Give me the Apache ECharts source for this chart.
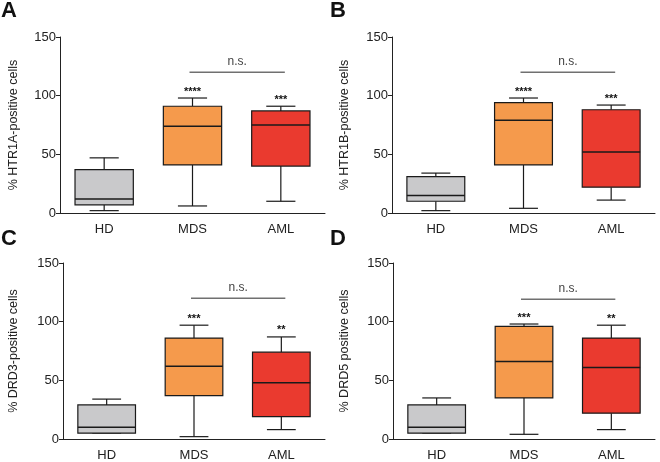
<!DOCTYPE html>
<html>
<head>
<meta charset="utf-8">
<script src="https://cdn.jsdelivr.net/npm/echarts@6/dist/echarts.min.js"></script>
<style>
html,body{margin:0;padding:0;background:#fff;}
#chart{width:660px;height:462px;}
</style>
</head>
<body>
<div id="chart"></div>
<script>
// ---- data ----
const categories = ['HD', 'MDS', 'AML'];
const panelLetters = ['A', 'B', 'C', 'D'];
const yTitles = ['% HTR1A-positive cells', '% HTR1B-positive cells', '% DRD3-positive cells', '% DRD5 positive cells'];
const yMin = 0, yMax = 150, yInterval = 50;
// [min, Q1, median, Q3, max] per category
const htr1a = [[2, 7, 12, 37, 47], [6, 41, 74, 91, 98], [10, 40, 75, 87, 91]];
const htr1b = [[2, 10, 15, 31, 34], [4, 41, 79, 94, 98], [11, 22, 52, 88, 92]];
const drd3  = [[5, 5, 10, 29, 34], [2, 37, 62, 86, 97], [8, 19, 48, 74, 87]];
const drd5  = [[5, 5, 10, 29, 35], [4, 35, 66, 96, 98], [8, 22, 61, 86, 97]];
const panelData = [htr1a, htr1b, drd3, drd5];
const stars = [['', '****', '***'], ['', '****', '***'], ['', '***', '**'], ['', '***', '**']];
const nsLabel = 'n.s.';
const nsLevel = [120, 120, 120, 119];
const nsPair = [1, 2];

// ---- styles ----
const boxColors = ['#c9c9cb', '#f59a4c', '#ea3a2f'];
const FONT = 'Liberation Sans, Arial, Helvetica, sans-serif';
const grids = [
  {left: 60, top: 37, width: 265, height: 176},
  {left: 392, top: 37, width: 263, height: 176},
  {left: 63, top: 263, width: 262, height: 177},
  {left: 393, top: 263, width: 262, height: 177}
];
const nameGaps = [40, 41, 43, 42];
const letterPos = [[1, 0], [330, 0], [1, 228], [330, 228]];

const chart = echarts.init(document.getElementById('chart'), null, {renderer: 'canvas'});

const xAxes = [], yAxes = [], series = [], graphics = [];
panelData.forEach((pd, p) => {
  xAxes.push({
    type: 'category', gridIndex: p, data: categories, boundaryGap: true,
    axisLine: {lineStyle: {color: '#222', width: 1}},
    axisTick: {show: false},
    axisLabel: {color: '#222', fontSize: 13, fontFamily: FONT, margin: 10}
  });
  yAxes.push({
    type: 'value', gridIndex: p, min: yMin, max: yMax, interval: yInterval,
    name: yTitles[p], nameLocation: 'middle', nameGap: nameGaps[p], nameRotate: 90,
    nameTextStyle: {color: '#222', fontSize: 12.5, fontFamily: FONT},
    axisLine: {show: true, lineStyle: {color: '#222', width: 1}},
    axisTick: {show: true, length: 4, lineStyle: {color: '#222'}},
    axisLabel: {color: '#222', fontSize: 13, fontFamily: FONT, margin: 4},
    splitLine: {show: false}
  });
  const st = stars[p];
  series.push({
    type: 'custom', xAxisIndex: p, yAxisIndex: p,
    data: pd.map((d, i) => [i].concat(d)),
    encode: {x: 0, y: [1, 2, 3, 4, 5]},
    renderItem: function (params, api) {
      const ci = api.value(0);
      const pMin = api.coord([ci, api.value(1)]);
      const pQ1 = api.coord([ci, api.value(2)]);
      const pMed = api.coord([ci, api.value(3)]);
      const pQ3 = api.coord([ci, api.value(4)]);
      const pMax = api.coord([ci, api.value(5)]);
      const band = api.size([1, 0])[0];
      const bw = band * 0.66, cw = bw * 0.5;
      const cx = pMed[0];
      const ls = {stroke: '#1a1a1a', lineWidth: 1.2};
      const ch = [
        {type: 'line', shape: {x1: cx, y1: pQ3[1], x2: cx, y2: pMax[1]}, style: ls},
        {type: 'line', shape: {x1: cx - cw / 2, y1: pMax[1], x2: cx + cw / 2, y2: pMax[1]}, style: ls},
        {type: 'line', shape: {x1: cx, y1: pQ1[1], x2: cx, y2: pMin[1]}, style: ls},
        {type: 'line', shape: {x1: cx - cw / 2, y1: pMin[1], x2: cx + cw / 2, y2: pMin[1]}, style: ls},
        {type: 'rect', shape: {x: cx - bw / 2, y: pQ3[1], width: bw, height: pQ1[1] - pQ3[1]},
          style: {fill: boxColors[ci], stroke: '#1a1a1a', lineWidth: 1.2}},
        {type: 'line', shape: {x1: cx - bw / 2, y1: pMed[1], x2: cx + bw / 2, y2: pMed[1]},
          style: {stroke: '#1a1a1a', lineWidth: 1.5}}
      ];
      if (st[ci]) {
        ch.push({type: 'text', x: cx, y: pMax[1] - 1,
          style: {text: st[ci], align: 'center', verticalAlign: 'bottom', fill: '#111',
            font: 'bold 11px ' + FONT}});
      }
      return {type: 'group', children: ch};
    },
    z: 2
  });
  series.push({
    type: 'custom', xAxisIndex: p, yAxisIndex: p,
    data: [[nsPair[0], nsPair[1], nsLevel[p]]],
    encode: {x: [0, 1], y: 2},
    renderItem: function (params, api) {
      const a = api.coord([api.value(0), api.value(2)]);
      const b = api.coord([api.value(1), api.value(2)]);
      const x1 = a[0] - 3, x2 = b[0] + 4;
      return {type: 'group', children: [
        {type: 'line', shape: {x1: x1, y1: a[1], x2: x2, y2: a[1]},
          style: {stroke: '#707070', lineWidth: 1.5}},
        {type: 'text', x: (x1 + x2) / 2, y: a[1] - 5,
          style: {text: nsLabel, align: 'center', verticalAlign: 'bottom', fill: '#444',
            font: '12px ' + FONT}}
      ]};
    },
    z: 3
  });
  graphics.push({type: 'text', left: letterPos[p][0], top: letterPos[p][1],
    style: {text: panelLetters[p], fill: '#111', font: 'bold 22px ' + FONT}});
});

chart.setOption({
  animation: false,
  backgroundColor: '#fff',
  textStyle: {fontFamily: FONT},
  grid: grids,
  xAxis: xAxes,
  yAxis: yAxes,
  series: series,
  graphic: graphics
});
</script>
</body>
</html>
